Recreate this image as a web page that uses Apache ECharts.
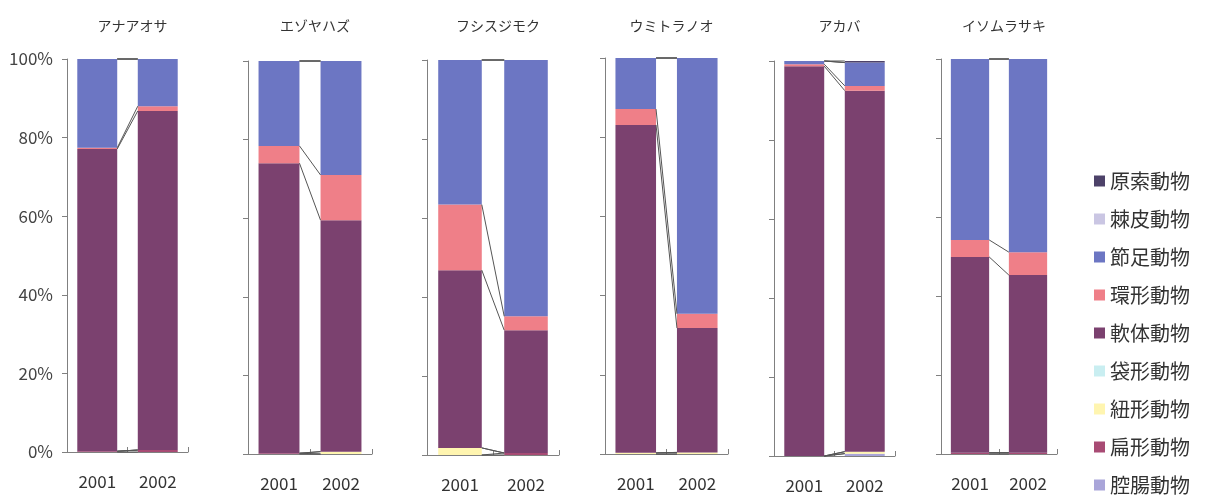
<!doctype html>
<html>
<head>
<meta charset="utf-8">
<title>100% stacked bars</title>
<script src="https://cdn.jsdelivr.net/npm/echarts@6/dist/echarts.min.js"></script>
<style>
  html, body { margin: 0; padding: 0; background: #fff; }
  #chart { width: 1220px; height: 496px; }
</style>
</head>
<body>
<div id="chart"></div>
<script>
// panels (species) and years
var panels = ['アナアオサ', 'エゾヤハズ', 'フシスジモク', 'ウミトラノオ', 'アカバ', 'イソムラサキ'];
var years = ['2001', '2002'];

// % values, two per panel: [p1-2001, p1-2002, p2-2001, p2-2002, ...]
var koucho  = [0, 0,    0, 0,    0, 0,    0, 0,    0, 0.6,   0, 0];      // 腔腸動物
var henkei  = [0.2, 0.5, 0.2, 0,  0, 0.5,  0, 0,    0, 0,     0.3, 0.3];  // 扁形動物
var chukei  = [0, 0,    0, 0.6,  1.8, 0,  0.3, 0.4, 0, 0.5,   0, 0];      // 紐形動物
var taikei  = [0, 0,    0, 0,    0, 0,    0, 0,    0, 0,     0, 0];      // 袋形動物
var nantai  = [76.9, 86.3, 73.8, 58.9, 45.0, 31.1, 82.8, 31.4, 98.7, 91.4, 49.6, 45.0]; // 軟体動物
var kankei  = [0.3, 1.2, 4.4, 11.5, 16.6, 3.5, 4.0, 3.6, 0.5, 1.2, 4.3, 5.8];         // 環形動物
var setsusoku = [22.6, 12.0, 21.6, 29.0, 36.6, 64.9, 12.9, 64.6, 0.8, 5.9, 45.8, 48.9]; // 節足動物
var kyokuhi = [0, 0,    0, 0,    0, 0,    0, 0,    0, 0,     0, 0];      // 棘皮動物
var gensaku = [0, 0,    0, 0,    0, 0,    0, 0,    0, 0.4,   0, 0];      // 原索動物

var groups = ['腔腸動物', '扁形動物', '紐形動物', '袋形動物', '軟体動物', '環形動物', '節足動物', '棘皮動物', '原索動物'];
var groupData = [koucho, henkei, chukei, taikei, nantai, kankei, setsusoku, kyokuhi, gensaku];
var colors = ['#a9a5d9', '#a84b74', '#fff5b0', '#c9eef1', '#7b416f', '#ef7f88', '#6c76c3', '#cac6e3', '#4d4269'];

// panel layout
var boxes = [
    {left: 67,  width: 121, top: 59, height: 393},
    {left: 248, width: 124, top: 61, height: 393},
    {left: 427, width: 132, top: 60, height: 395},
    {left: 605, width: 123, top: 58, height: 396},
    {left: 774, width: 121, top: 61, height: 395},
    {left: 941, width: 116, top: 59, height: 395}
];
var BAR = 0.66;
var font = '"Noto Sans CJK JP", "Noto Sans", sans-serif';

var grid = [], xAxis = [], yAxis = [], series = [], title = [];

boxes.forEach(function (b, g) {
    grid.push({left: b.left, width: b.width, top: b.top, height: b.height, containLabel: false});
    title.push({
        text: panels[g],
        left: b.left + b.width / 2,
        top: 14,
        textAlign: 'center',
        textStyle: {fontSize: 14, fontWeight: 'normal', color: '#333', fontFamily: font}
    });
    xAxis.push({
        type: 'category', gridIndex: g, data: years,
        axisLine: {lineStyle: {color: '#808080'}},
        axisTick: {show: true, inside: true, length: 5, lineStyle: {color: '#808080'}},
        axisLabel: {fontSize: 17, color: '#333', margin: 21, fontFamily: font}
    });
    yAxis.push({
        type: 'value', gridIndex: g, min: 0, max: 100, interval: 20,
        axisLine: {show: true, lineStyle: {color: '#808080'}},
        axisTick: {show: true, length: 5, lineStyle: {color: '#808080'}},
        splitLine: {show: false},
        axisLabel: {show: g === 0, formatter: '{value}%', fontSize: 17, color: '#444', margin: 14, fontFamily: font}
    });

    groups.forEach(function (name, k) {
        series.push({
            type: 'bar', name: name, stack: 'p' + g,
            xAxisIndex: g, yAxisIndex: g,
            barWidth: (BAR * 100) + '%',
            itemStyle: {color: colors[k]},
            data: [groupData[k][2 * g], groupData[k][2 * g + 1]]
        });
    });

    // series lines between the two bars
    var lines = [], c0 = 0, c1 = 0;
    groupData.forEach(function (arr) {
        c0 += arr[2 * g]; c1 += arr[2 * g + 1];
        lines.push([0, c0, c1]);
    });
    series.push({
        type: 'custom', xAxisIndex: g, yAxisIndex: g,
        encode: {x: 0, y: [1, 2]},
        data: lines,
        silent: true,
        z: 5,
        renderItem: function (params, api) {
            var a = api.coord([0, api.value(1)]);
            var b2 = api.coord([1, api.value(2)]);
            var hw = api.size([1, 0])[0] * BAR / 2;
            return {
                type: 'line',
                shape: {x1: a[0] + hw, y1: a[1], x2: b2[0] - hw, y2: b2[1]},
                style: {stroke: '#555', lineWidth: 1}
            };
        }
    });
});

var myChart = echarts.init(document.getElementById('chart'));
myChart.setOption({
    animation: false,
    textStyle: {fontFamily: font},
    title: title,
    legend: {
        data: groups.slice().reverse(),
        orient: 'vertical',
        left: 1089, top: 166, height: 380,
        itemWidth: 11, itemHeight: 11, itemGap: 18,
        icon: 'rect',
        textStyle: {fontSize: 20, color: '#333', fontFamily: font}
    },
    grid: grid,
    xAxis: xAxis,
    yAxis: yAxis,
    series: series
});
</script>
</body>
</html>
